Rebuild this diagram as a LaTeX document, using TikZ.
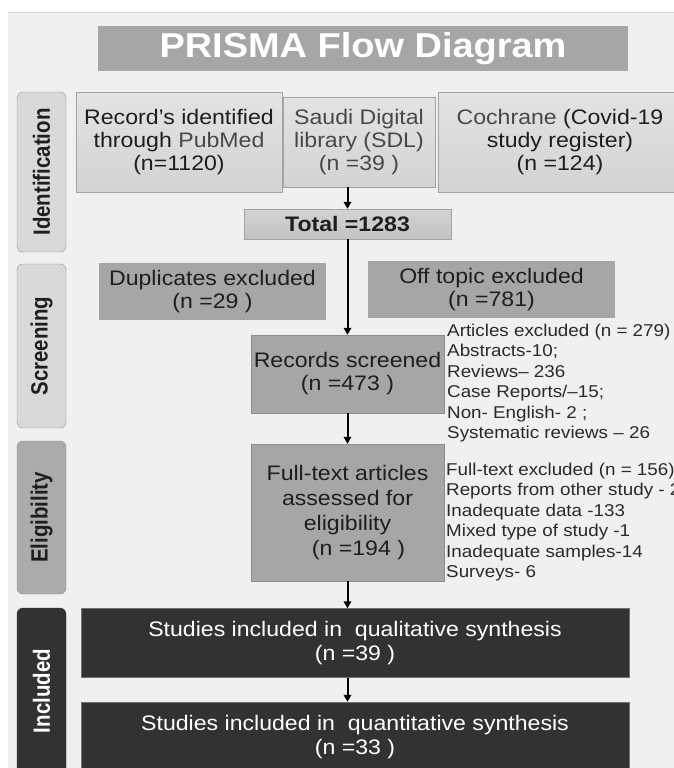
\documentclass[tikz,border=0pt]{standalone}
\usepackage{fontspec}
\setmainfont{Liberation Sans}[FakeStretch=1.1]
\newfontfamily\tabfont{Liberation Sans}[FakeStretch=0.87]
\usetikzlibrary{arrows.meta,positioning}

\definecolor{pageback}{HTML}{F0F0F0}
\definecolor{edgeline}{HTML}{D4D4D4}
\definecolor{titlegray}{HTML}{A6A6A6}
\definecolor{lighttop}{HTML}{E3E3E3}
\definecolor{lightbot}{HTML}{D3D3D3}
\definecolor{boxline}{HTML}{A3A3A3}
\definecolor{midgray}{HTML}{A6A6A6}
\definecolor{midline}{HTML}{8C8C8C}
\definecolor{darkfill}{HTML}{323232}
\definecolor{boxtext}{HTML}{1E1E1E}
\definecolor{softtext}{HTML}{484848}
\definecolor{notetext}{HTML}{2A2A2A}
\definecolor{tablight}{HTML}{D9D9D9}
\definecolor{tabmid}{HTML}{ABABAB}
\definecolor{tabline}{HTML}{8E8E8E}

\begin{document}
\begin{tikzpicture}[x=1pt,y=-1pt,
  titlebar/.style={fill=titlegray, text=white, inner sep=0pt,
    font=\bfseries\fontsize{34.5}{40}\selectfont},
  lightbox/.style={draw=boxline, top color=lighttop, bottom color=lightbot,
    text=boxtext, align=center, inner sep=0pt, font=\fontsize{21}{23}\selectfont},
  midbox/.style={fill=midgray, text=boxtext, align=center, inner sep=0pt,
    font=\fontsize{21}{23}\selectfont},
  darkbox/.style={fill=darkfill, draw=darkfill!70!white, text=white, align=center,
    inner sep=0pt, minimum width=548pt, font=\fontsize{21}{24.5}\selectfont},
  sidetab/.style={draw=tabline, rounded corners=6pt, rotate=90, inner sep=0pt,
    minimum height=49pt, text=boxtext, font=\tabfont\bfseries\fontsize{23.5}{26}\selectfont},
  note/.style={anchor=west, align=left, inner sep=0pt, text=notetext,
    font=\fontsize{17.1}{20.4}\selectfont},
  flow/.style={-{Triangle[length=7pt,width=7.5pt]}, line width=2pt, black}]

 \useasboundingbox (0,0) rectangle (674,768);
 \clip (0,0) rectangle (674,768);
 \fill[white] (0,0) rectangle (674,768);
 \fill[pageback] (8,12) rectangle (674,768);
 \draw[edgeline] (8,12) -- (674,12);

 % title
 \node[titlebar, minimum width=530pt, minimum height=45pt] (title) at (363,48.5) {PRISMA Flow Diagram};

 % stage tabs
 \node[sidetab, fill=tablight, minimum width=160pt] (tabident) at (41.5,172) {Identification};
 \node[sidetab, fill=tablight, minimum width=164pt] (tabscreen) at (41.5,346) {Screening};
 \node[sidetab, fill=tabmid, minimum width=153pt] (tabelig) at (41.5,517.5) {Eligibility};
 \node[sidetab, fill=darkfill, draw=darkfill, text=white, minimum width=166pt] (tabincl) at (41.5,691) {Included};

 % identification
 \node[lightbox, minimum width=206pt, minimum height=100pt] (pubmed) at (179,142)
   {Record’s identified\\through {\color{softtext}PubMed}\\(n=1120)};
 \node[lightbox, text=softtext, minimum width=152pt, minimum height=90pt] (sdl) at (359,142)
   {Saudi Digital\\library (SDL)\\(n =39 )};
 \node[lightbox, minimum width=244pt, minimum height=100pt] (cochrane) at (560,142)
   {{\color{softtext}Cochrane} (Covid-19\\study register)\\(n =124)};
 \node[lightbox, top color=lightbot, bottom color=lightbot!92!black, minimum width=207pt,
   minimum height=30pt, font=\bfseries\fontsize{21}{23}\selectfont] (total) at (347.5,224) {Total =1283};

 % screening
 \node[midbox, minimum width=227pt, minimum height=57pt] (dupl) at (212.5,291.5)
   {Duplicates excluded\\(n =29 )};
 \node[midbox, minimum width=247pt, minimum height=57pt] (offtopic) at (491.5,289.5)
   {Off topic excluded\\(n =781)};
 \node[midbox, draw=midline, minimum width=193pt, minimum height=78pt] (records) at (347.5,374)
   {Records screened\\(n =473 )};
 \node[note] (artexcl) at (447,383)
   {Articles excluded (n = 279)\\Abstracts-10;\\Reviews– 236\\Case Reports/–15;\\Non- English- 2 ;\\Systematic reviews – 26};

 % eligibility
 \node[midbox, draw=midline, minimum width=193pt, minimum height=137pt,
   font=\fontsize{21}{25}\selectfont] (fulltext) at (347.5,512.5)
   {Full-text articles\\assessed for\\eligibility\\\hspace*{22pt}(n =194 )};
 \node[note] (ftexcl) at (446,522)
   {Full-text excluded (n = 156)\\Reports from other study - 2\\Inadequate data -133\\Mixed type of study -1\\Inadequate samples-14\\Surveys- 6};

 % included
 \node[darkbox, minimum height=69pt] (qual) at (355,643)
   {Studies included in\ \ qualitative synthesis\\(n =39 )};
 \node[darkbox, minimum height=70pt] (quant) at (355,737)
   {Studies included in\ \ quantitative synthesis\\(n =33 )};

 % arrows
 \draw[flow] (sdl.south -| total.north) -- (total.north);
 \draw[flow] (total.south) -- (records.north);
 \draw[flow] (records.south) -- (fulltext.north);
 \draw[flow] (fulltext.south) -- (qual.north -| fulltext.south);
 \draw[flow] (qual.south -| fulltext.south) -- (quant.north -| fulltext.south);
\end{tikzpicture}
\end{document}
